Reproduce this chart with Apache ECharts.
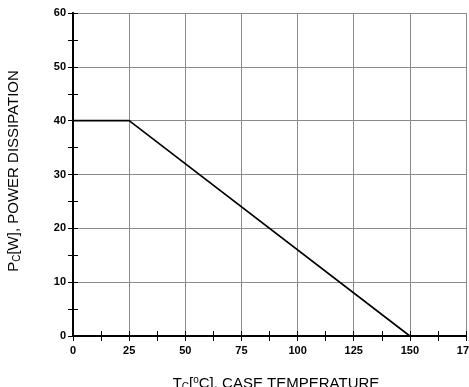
<!DOCTYPE html>
<html><head><meta charset="utf-8">
<script src="https://cdn.jsdelivr.net/npm/echarts@6/dist/echarts.min.js"></script>
<style>html,body{margin:0;padding:0;background:#fff}#c{width:469px;height:387px}</style>
</head><body><div id="c"></div>
<script>
const caseTemp = [0, 25, 150];
const powerW = [40, 40, 0];
const xTicks = [0, 25, 50, 75, 100, 125, 150, 175];
const yTicks = [0, 10, 20, 30, 40, 50, 60];

const chart = echarts.init(document.getElementById('c'), null, {renderer: 'canvas'});
const font = 'Arial, "Liberation Sans", sans-serif';
const minorStyle = {show: true, splitNumber: 2, length: 5, lineStyle: {color: '#000', width: 1}};
const tickStyle = {show: true, inside: true, length: 5, lineStyle: {color: '#000'}};
chart.setOption({
  animation: false,
  grid: {left: 73, right: 3, top: 13, bottom: 51, show: false, containLabel: false, outerBoundsMode: 'none'},
  xAxis: [{
    type: 'value', min: 0, max: 175, interval: 25,
    axisLine: {show: true, onZero: false, lineStyle: {color: '#000', width: 2}},
    axisTick: tickStyle,
    minorTick: minorStyle,
    splitLine: {show: true, lineStyle: {color: '#8a8a8a', width: 1}},
    axisLabel: {margin: 9, fontSize: 11, fontWeight: 'bold', color: '#000', fontFamily: font,
      hideOverlap: false, showMaxLabel: true,
      formatter: v => xTicks.includes(v) ? String(v) : ''}
  }, {
    type: 'value', position: 'top', min: 0, max: 175, interval: 25,
    axisLine: {show: true, lineStyle: {color: '#000', width: 2}},
    axisTick: tickStyle,
    minorTick: minorStyle,
    splitLine: {show: false}, axisLabel: {show: false}
  }],
  yAxis: [{
    type: 'value', min: 0, max: 60, interval: 10,
    axisLine: {show: true, onZero: false, lineStyle: {color: '#000', width: 2}},
    axisTick: tickStyle,
    minorTick: minorStyle,
    splitLine: {show: true, lineStyle: {color: '#8a8a8a', width: 1}},
    axisLabel: {margin: 7, fontSize: 11, fontWeight: 'bold', color: '#000', fontFamily: font,
      formatter: v => yTicks.includes(v) ? String(v) : ''}
  }, {
    type: 'value', position: 'right', min: 0, max: 60, interval: 10,
    axisLine: {show: true, lineStyle: {color: '#000', width: 2}},
    axisTick: tickStyle,
    minorTick: minorStyle,
    splitLine: {show: false}, axisLabel: {show: false}
  }],
  graphic: [{
    type: 'text', x: 14, y: 171, rotation: Math.PI / 2,
    style: {
      text: '{a|P}{s|C}{a|[W], POWER DISSIPATION}',
      align: 'center', verticalAlign: 'middle',
      rich: {
        a: {fontSize: 15, fontFamily: font, fill: '#000'},
        s: {fontSize: 10, fontFamily: font, fill: '#000', padding: [6, 0, 0, 0]}
      }
    }
  }, {
    type: 'text', x: 276, y: 384,
    style: {
      text: '{a|T}{s|C}{a|[}{p|o}{a|C], CASE TEMPERATURE}',
      align: 'center', verticalAlign: 'middle',
      rich: {
        a: {fontSize: 15, fontFamily: font, fill: '#000'},
        s: {fontSize: 10, fontFamily: font, fill: '#000', padding: [6, 0, 0, 0]},
        p: {fontSize: 10, fontFamily: font, fill: '#000', padding: [0, 0, 8, 0]}
      }
    }
  }],
  series: [{
    type: 'line', xAxisIndex: 0, yAxisIndex: 0,
    data: caseTemp.map((x, i) => [x, powerW[i]]),
    symbol: 'none', lineStyle: {color: '#000', width: 1.6}
  }]
});
</script></body></html>
